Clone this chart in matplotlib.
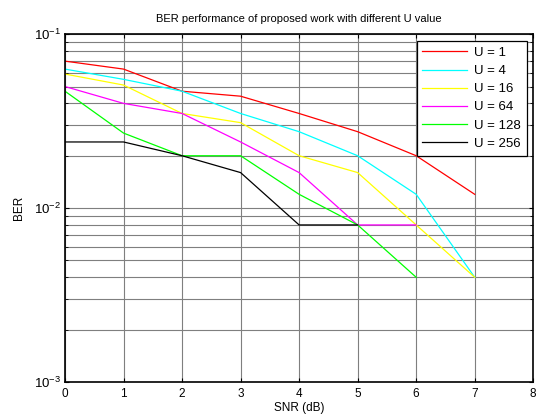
import matplotlib
matplotlib.use('Agg')
import matplotlib.pyplot as plt
from matplotlib.ticker import LogLocator, NullFormatter

plt.rcParams['font.family'] = ['Liberation Sans', 'DejaVu Sans']

# SNR (dB) points and BER values per U
snr = [0, 1, 2, 3, 4, 5, 6, 7]
ber_u1 = [0.070, 0.063, 0.047, 0.044, 0.035, 0.0275, 0.020, 0.012]
ber_u4 = [0.063, 0.055, 0.047, 0.035, 0.0275, 0.020, 0.012, 0.004]
ber_u16 = [0.059, 0.051, 0.035, 0.031, 0.020, 0.016, 0.008, 0.004]
ber_u64 = [0.050, 0.040, 0.035, 0.024, 0.016, 0.008, 0.008]
ber_u128 = [0.047, 0.027, 0.020, 0.020, 0.012, 0.008, 0.004]
ber_u256 = [0.024, 0.024, 0.020, 0.016, 0.008, 0.008]

series = [
    ('U = 1', ber_u1, '#ff0000'),
    ('U = 4', ber_u4, '#00ffff'),
    ('U = 16', ber_u16, '#ffff00'),
    ('U = 64', ber_u64, '#ff00ff'),
    ('U = 128', ber_u128, '#00ff00'),
    ('U = 256', ber_u256, '#000000'),
]

fig = plt.figure(figsize=(5.37, 4.17), dpi=100)
ax = fig.add_axes([0.121, 0.084, 0.872, 0.834])

for label, vals, col in series:
    ax.semilogy(snr[:len(vals)], vals, color=col, lw=0.9, label=label)

ax.set_xlim(0, 8)
ax.set_ylim(1e-3, 1e-1)
ax.set_xticks(range(9))
ax.yaxis.set_major_locator(LogLocator(base=10))
ax.yaxis.set_minor_locator(LogLocator(base=10, subs=range(2, 10)))
ax.yaxis.set_minor_formatter(NullFormatter())

ax.grid(True, which='major', color='#7f7f7f', lw=0.8)
ax.grid(True, which='minor', axis='y', color='#7f7f7f', lw=0.8)
ax.tick_params(which='both', direction='in', top=True, right=True)
ax.tick_params(axis='x', labelsize=8.5, pad=4)
ax.tick_params(axis='y', labelsize=9.5, pad=3)
ax.tick_params(which='major', length=3)
ax.tick_params(which='minor', length=2)
for sp in ax.spines.values():
    sp.set_linewidth(1.2)

ax.set_title('BER performance of proposed work with different U value', fontsize=8, pad=9)
ax.set_xlabel('SNR (dB)', fontsize=8.5, labelpad=2)
ax.set_ylabel('BER', fontsize=8.5, labelpad=6)

leg = ax.legend(loc='upper right', fontsize=9.5, fancybox=False, framealpha=1,
                edgecolor='black', borderaxespad=0.5, handlelength=3.4,
                labelspacing=0.45, borderpad=0.45, handletextpad=0.5)
leg.get_frame().set_linewidth(0.9)

fig.savefig('out.png', dpi=100)
